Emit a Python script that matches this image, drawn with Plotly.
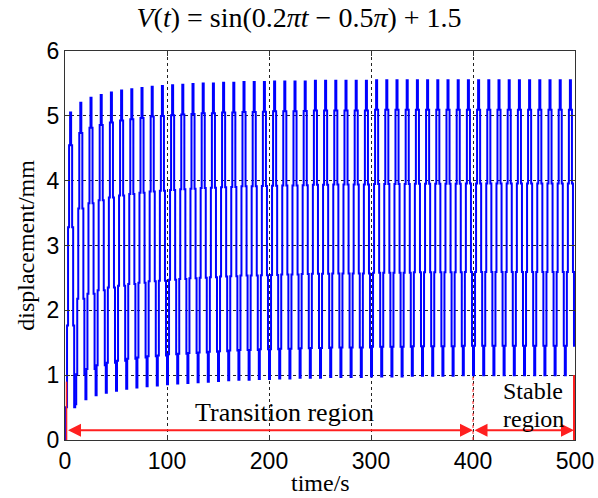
import plotly.graph_objects as go

# ---- data ----
# cycle peaks (at t = 5, 15, ..., 495 s)
peaks = [5.05, 5.20, 5.28, 5.32, 5.36, 5.39, 5.41, 5.43, 5.45, 5.46,
         5.47, 5.48, 5.49, 5.50, 5.50, 5.51, 5.51, 5.52, 5.52, 5.52,
         5.53, 5.53, 5.53, 5.53, 5.54, 5.54, 5.54, 5.54, 5.54, 5.54,
         5.55, 5.55, 5.55, 5.55, 5.55, 5.55, 5.55, 5.55, 5.55, 5.55,
         5.55, 5.55, 5.55, 5.55, 5.55, 5.55, 5.55, 5.55, 5.55, 5.55]
# cycle troughs (at t = 0, 10, ..., 490 s)
troughs = [0.00, 0.55, 0.63, 0.69, 0.73, 0.76, 0.79, 0.81, 0.83, 0.84,
           0.86, 0.87, 0.88, 0.89, 0.90, 0.91, 0.92, 0.93, 0.93, 0.94,
           0.94, 0.95, 0.95, 0.96, 0.96, 0.96, 0.97, 0.97, 0.97, 0.97,
           0.98, 0.98, 0.98, 0.98, 0.99, 0.99, 0.99, 0.99, 0.99, 1.00,
           1.00, 1.00, 1.00, 1.00, 1.00, 1.00, 1.00, 1.00, 1.00, 1.00]
# relative level within one 10 s cycle, sampled every second (stair steps)
cycle_levels = [0.00, 0.10, 0.35, 0.65, 0.90, 1.00, 0.90, 0.65, 0.35, 0.10]
period_s = 10

x_ticks = [0, 100, 200, 300, 400, 500]
y_ticks = [0, 1, 2, 3, 4, 5, 6]

# ---- build the sampled response ----
t_vals, d_vals = [], []
for k, (lo, hi) in enumerate(zip(troughs, peaks)):
    for j, lev in enumerate(cycle_levels):
        t_vals.append(k * period_s + j)
        d_vals.append(lo + (hi - lo) * lev)
t_vals.append(len(peaks) * period_s)
d_vals.append(d_vals[-1])

fig = go.Figure()
fig.add_trace(go.Scatter(x=t_vals, y=d_vals, mode="lines",
                         line=dict(color="#0000ff", width=2, shape="hv"),
                         showlegend=False, hoverinfo="skip"))

# red region markers
red = "#ff2020"
fig.add_shape(type="line", x0=1.5, x1=1.5, y0=0, y1=0.9, xref="x", yref="y",
              line=dict(color=red, width=1.5))
fig.add_shape(type="line", x0=400, x1=400, y0=0, y1=1.0, xref="x", yref="y",
              line=dict(color=red, width=1, dash="dot"))
fig.add_shape(type="line", x0=499, x1=499, y0=0, y1=1.0, xref="x", yref="y",
              line=dict(color=red, width=2))

arrow_y = 0.15
for (a, b) in [(1.5, 400), (400, 499)]:
    fig.add_annotation(x=b, y=arrow_y, ax=a, ay=arrow_y, xref="x", yref="y",
                       axref="x", ayref="y", text="", showarrow=True,
                       arrowhead=2, arrowsize=1.3, arrowwidth=2, arrowcolor=red,
                       arrowside="end+start", standoff=0, startstandoff=0)

serif = "Liberation Serif, Times New Roman, serif"
sans = "Liberation Sans, Arial, sans-serif"
fig.add_annotation(x=215, y=0.43, xref="x", yref="y", text="Transition region",
                   showarrow=False, xanchor="center", yanchor="middle",
                   font=dict(family=serif, size=26, color="black"))
fig.add_annotation(x=459, y=0.76, xref="x", yref="y", text="Stable",
                   showarrow=False, xanchor="center", yanchor="middle",
                   font=dict(family=serif, size=24, color="black"))
fig.add_annotation(x=459, y=0.33, xref="x", yref="y", text="region",
                   showarrow=False, xanchor="center", yanchor="middle",
                   font=dict(family=serif, size=24, color="black"))

# axis titles
fig.add_annotation(x=-0.078, y=0.50, xref="paper", yref="paper",
                   text="displacement/mm", textangle=-90, showarrow=False,
                   xanchor="center", yanchor="middle",
                   font=dict(family=serif, size=24, color="black"))
fig.add_annotation(x=0.50, y=-0.11, xref="paper", yref="paper",
                   text="time/s", showarrow=False,
                   xanchor="center", yanchor="middle",
                   font=dict(family=serif, size=24, color="black"))

fig.update_layout(
    width=598, height=498,
    margin=dict(l=65, r=23, t=51, b=58),
    paper_bgcolor="white", plot_bgcolor="white",
    title=dict(text="<i>V</i>(<i>t</i>) = sin(0.2<i>πt</i> − 0.5<i>π</i>) + 1.5",
               x=0.5, xanchor="center", y=0.966, yanchor="middle",
               font=dict(family=serif, size=28, color="black")),
)
fig.update_xaxes(range=[0, 500], tickvals=x_ticks, ticks="inside", ticklen=5,
                 tickcolor="#333", showline=True, linecolor="#333", linewidth=1,
                 mirror="ticks", showgrid=True, gridcolor="#222", griddash="dot",
                 gridwidth=1, zeroline=False, automargin=False,
                 tickfont=dict(family=sans, size=23, color="black"))
fig.update_yaxes(range=[0, 6], tickvals=y_ticks, ticks="inside", ticklen=5,
                 tickcolor="#333", showline=True, linecolor="#333", linewidth=1,
                 mirror="ticks", showgrid=True, gridcolor="#222", griddash="dot",
                 gridwidth=1, zeroline=False, automargin=False,
                 tickfont=dict(family=sans, size=23, color="black"))

fig.write_html("out.html", config={"displayModeBar": False},
               post_script="document.body.style.margin='0px';"
                           "document.body.style.padding='0px';")
